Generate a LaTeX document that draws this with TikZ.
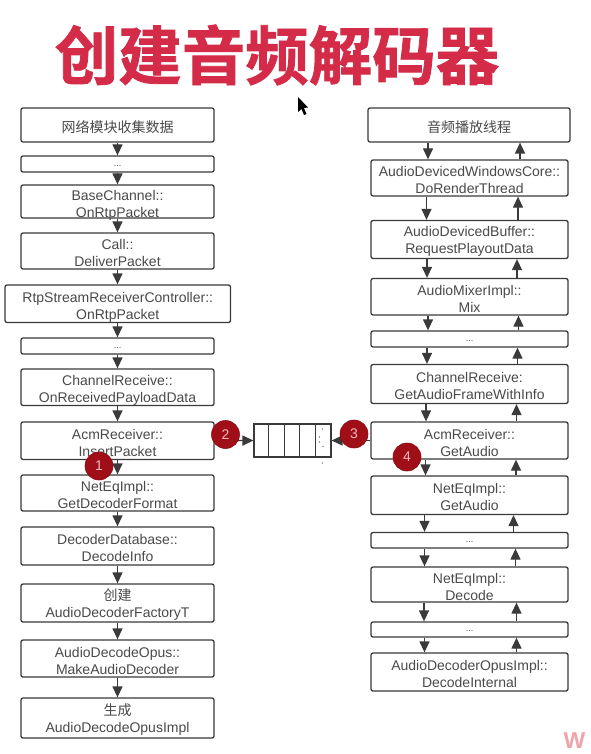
\documentclass[tikz,border=0pt]{standalone}
\usepackage{fontspec}
\setmainfont{Liberation Sans}
\newfontfamily\cjk{Noto Sans CJK SC}
\newfontfamily\cjktitle[FakeBold=1.2]{Noto Sans CJK SC Bold}
\usetikzlibrary{arrows.meta}
\definecolor{ink}{HTML}{3A3A3A}
\definecolor{txt}{HTML}{4A4A4A}
\definecolor{badge}{HTML}{A00E18}
\definecolor{badgetxt}{HTML}{F2B8BE}
\definecolor{titlered}{HTML}{D42C48}
\definecolor{mark}{HTML}{EFA3AB}
\tikzset{
  boxnode/.style={draw=ink,line width=1.3pt,rounded corners=2pt,fill=white,inner sep=0pt},
  boxtext/.style={text=txt,font=\fontsize{14}{17}\selectfont,align=center,inner sep=0pt},
  flow/.style={draw=ink,line width=1.3pt,-{Triangle[width=10pt,length=11pt]}},
  badgenode/.style={circle,fill=badge,draw=badge!85!black,line width=.6pt,minimum size=28pt,inner sep=0pt,text=badgetxt,font=\fontsize{14}{16}\selectfont},
  qdot/.style={circle,fill=ink,inner sep=0pt,minimum size=1.2pt}
}
\newcommand{\bx}[7][2]{\node[boxnode,minimum width={(#5-#3)*1pt},minimum height={(#6-#4)*1pt},label={[boxtext,yshift=-#1pt]center:{#7}}] (#2) at ({(#3+#5)/2},{(#4+#6)/2}) {};}
\newcommand{\dd}{{\fontsize{9}{10}\selectfont ...}}
\begin{document}
\begin{tikzpicture}[x=1pt,y=-1pt]
\useasboundingbox (0,0) rectangle (590,754);
\fill[white] (0,0) rectangle (590,754);
% title
\node[text=titlered,font=\cjktitle\fontsize{63.5}{70}\selectfont,inner sep=0pt] (title) at (277,55) {创建音频解码器};
% cursor
\fill[black] (298,97) -- (298,112) -- (301.5,109) -- (304,115) -- (306.5,114) -- (304,108) -- (308,107.5) -- cycle;
% left column
\bx{L1}{21}{108}{214}{142}{\cjk 网络模块收集数据}
\bx{L2}{21}{156}{214}{172}{\dd}
\bx[3.5]{L3}{21}{185}{214}{218}{BaseChannel::\\OnRtpPacket}
\bx{L4}{21}{233}{214}{269}{Call::\\DeliverPacket}
\bx[4]{L5}{5}{285}{230.5}{322.5}{RtpStreamReceiverController::\\OnRtpPacket}
\bx{L6}{21}{338}{214}{354}{\dd}
\bx[3]{L7}{21}{369}{214}{405.5}{ChannelReceive::\\OnReceivedPayloadData}
\bx[2.5]{L8}{21}{422}{214}{459.5}{AcmReceiver::\\InsertPacket}
\bx{L9}{21}{475}{214}{511}{NetEqImpl::\\GetDecoderFormat}
\bx{L10}{21}{527}{214}{565}{DecoderDatabase::\\DecodeInfo}
\bx{L11}{21}{584}{214}{622}{{\cjk 创建}\\AudioDecoderFactoryT}
\bx{L12}{21}{640}{214}{677}{AudioDecodeOpus::\\MakeAudioDecoder}
\bx{L13}{21}{698}{214}{738}{{\cjk 生成}\\AudioDecodeOpusImpl}
% right column
\bx{R0}{368}{108}{570}{142}{\cjk 音频播放线程}
\bx{R1}{371}{160}{568}{196}{AudioDevicedWindowsCore::\\DoRenderThread}
\bx{R2}{371}{220.5}{568}{258.5}{AudioDevicedBuffer::\\RequestPlayoutData}
\bx{R3}{371}{278.5}{568}{315}{AudioMixerImpl::\\Mix}
\bx{R4}{371}{331}{568}{347}{\dd}
\bx{R5}{371}{364.5}{568}{403.5}{ChannelReceive:\\GetAudioFrameWithInfo}
\bx{R6}{371}{422}{568}{459}{AcmReceiver::\\GetAudio}
\bx{R7}{371}{476}{568}{514.5}{NetEqImpl::\\GetAudio}
\bx{R8}{371}{532.5}{568}{548}{\dd}
\bx{R9}{371}{567}{568}{602}{NetEqImpl::\\Decode}
\bx{R10}{371}{622}{568}{637}{\dd}
\bx{R11}{371}{653}{568}{691}{AudioDecoderOpusImpl::\\DecodeInternal}
% queue
\node[draw=ink,line width=1.1pt,minimum width=77pt,minimum height=33pt,inner sep=0pt] (Q) at (292.5,440.5) {};
\foreach \k in {1,2,3,4}
  \draw[ink,line width=1.1pt] ([xshift={\k*15.4pt}]Q.north west) -- ([xshift={\k*15.4pt}]Q.south west);
\node[qdot] (d1) at (322.5,429) {};
\node[qdot] (d2) at (319.5,437) {};
\node[qdot] (d3) at (319.5,442) {};
\node[qdot] (d4) at (323,446.5) {};
\node[qdot] (d5) at (322.5,463) {};
% left flow
\foreach \a/\b in {L1/L2,L2/L3,L3/L4,L4/L5,L5/L6,L6/L7,L7/L8,L8/L9,L9/L10,L10/L11,L11/L12,L12/L13}
  \draw[flow] (\a.south -| 117.5,0) -- (\b.north -| 117.5,0);
% right flow
\foreach \a/\b/\d/\u in {R0/R1/428/520,R1/R2/426.5/518,R2/R3/427/517,R3/R4/428/518.5,R4/R5/427/517.5,R5/R6/426/516.5,R6/R7/425.5/516,R7/R8/424.5/513.5,R8/R9/424.5/515.5,R9/R10/424/516.5,R10/R11/424.5/516.5}{
  \draw[flow] (\a.south -| \d,0) -- (\b.north -| \d,0);
  \draw[flow] (\b.north -| \u,0) -- (\a.south -| \u,0);
}
% queue flow
\draw[flow] (L8.east) -- (Q.west);
\draw[flow] (R6.west) -- (Q.east);
% badges
\node[badgenode] (b1) at (99,466) {1};
\node[badgenode] (b2) at (225.5,434.5) {2};
\node[badgenode] (b3) at (354,434) {3};
\node[badgenode] (b4) at (407,457) {4};
% watermark
\node[text=mark,font=\bfseries\fontsize{23}{26}\selectfont,inner sep=0pt] (wm) at (574.5,741) {W};
\end{tikzpicture}
\end{document}
